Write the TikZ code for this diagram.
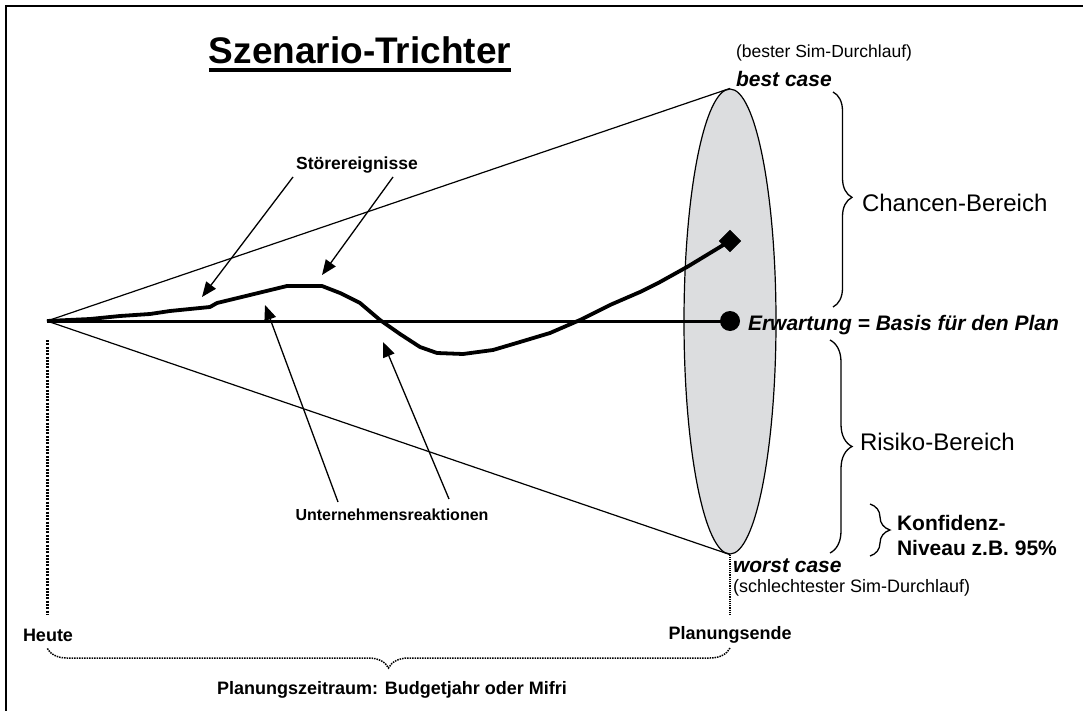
\documentclass[tikz,border=0pt]{standalone}
\usepackage{fontspec}
\setmainfont{Liberation Sans}
\usetikzlibrary{arrows.meta,decorations.pathreplacing,shapes.geometric}
\newcommand{\myfs}[1]{\fontsize{#1}{#1}\selectfont}
\definecolor{funnelgray}{HTML}{DCDDDF}
\begin{document}
\begin{tikzpicture}[x=1pt,y=-1pt,
  lbl/.style={inner sep=0pt, outer sep=0pt},
  arr/.style={-{Triangle[length=15pt,width=12pt]}, line width=1.3pt},
  brc/.style={decorate, line width=1.3pt},
  thin line/.style={line width=1.2pt},
]
\useasboundingbox (0,0) rectangle (1083,711);
% frame
\draw[line width=1.5pt] (6,711) -- (6,6) -- (1083,6);

% title
\node[lbl, anchor=base] (title) at (360,64) {\myfs{37}\bfseries Szenario-Trichter};
\draw[line width=3.5pt] ([yshift=-6pt]title.base west) -- ([yshift=-6pt]title.base east);

% funnel
\coordinate (apex) at (47,321);
\node[ellipse, draw, fill=funnelgray, line width=1.2pt, minimum width=92pt, minimum height=465pt, inner sep=0pt] (funnel) at (730,321.5) {};
\draw[thin line] (apex) -- (funnel.north);
\draw[thin line] (apex) -- (funnel.south);

% expectation line
\node[circle, fill=black, minimum size=20pt, inner sep=0pt] (exp) at (730,321) {};
\draw[line width=3pt] (apex) -- (exp.center);

% scenario path
\node[diamond, fill=black, draw, minimum size=22pt, inner sep=0pt] (best) at (730,241) {};
\draw[line width=3.8pt, line join=round] (apex) -- (90,319) -- (120,316) -- (150,314) -- (170,311)
  -- (190,309) -- (210,307) -- (217,303) -- (250,295) -- (287,286) -- (322,286) -- (340,293)
  -- (360,303) -- (380,320) -- (400,334) -- (420,347) -- (437,353) -- (463,354) -- (493,350)
  -- (520,342) -- (550,333) -- (580,320) -- (610,305) -- (640,292) -- (660,282) -- (687,267)
  -- (720,247) -- (best.center);

% labels right
\node[lbl, anchor=west] (bestsim) at (736,53) {\myfs{17.5}(bester Sim-Durchlauf)};
\node[lbl, anchor=west] (bestcase) at (736,79) {\myfs{21}\bfseries\itshape best case};
\node[lbl, anchor=west] (erw) at (748,325) {\myfs{21}\bfseries\itshape Erwartung = Basis für den Plan};
\node[lbl, anchor=west] (chancen) at (862,203) {\myfs{24}Chancen-Bereich};
\node[lbl, anchor=west] (risiko) at (860,442) {\myfs{24}Risiko-Bereich};
\node[lbl, anchor=west] (konf1) at (897,523) {\myfs{21}\bfseries Konfidenz-};
\node[lbl, anchor=west] (konf2) at (897,548) {\myfs{21}\bfseries Niveau z.B. 95\%};
\node[lbl, anchor=west] (worstcase) at (733,566) {\myfs{21}\bfseries\itshape worst case};
\node[lbl, anchor=west] (worstsim) at (733,588) {\myfs{18}(schlechtester Sim-Durchlauf)};

% braces
\coordinate (cb1) at (833,92);
\coordinate (cb2) at (833,307);
\draw[brc, decoration={brace, amplitude=19pt, aspect=0.49}] (cb1) -- (cb2);
\coordinate (rb1) at (830,340);
\coordinate (rb2) at (830,553);
\draw[brc, decoration={brace, amplitude=22pt, aspect=0.5}] (rb1) -- (rb2);
\coordinate (kb1) at (870,504);
\coordinate (kb2) at (870,556);
\draw[brc, decoration={brace, amplitude=20pt, aspect=0.5}] (kb1) -- (kb2);

% event labels and arrows
\node[lbl] (stoer) at (357,165) {\myfs{17.5}\bfseries Störereignisse};
\coordinate (s1) at (293,177);
\coordinate (t1) at (202,297);
\coordinate (s2) at (393,177);
\coordinate (t2) at (322,275);
\draw[arr] (s1) -- (t1);
\draw[arr] (s2) -- (t2);

\node[lbl] (reakt) at (392,515) {\myfs{16}\bfseries Unternehmensreaktionen};
\coordinate (u1) at (338,502);
\coordinate (v1) at (265,305);
\coordinate (u2) at (449,499);
\coordinate (v2) at (383,342);
\draw[arr] (u1) -- (v1);
\draw[arr] (u2) -- (v2);

% time axis
\draw[line width=3pt, dash pattern=on 2pt off 1.3pt] (47,340) -- (47,615);
\draw[line width=1.2pt, densely dotted] (funnel.south) -- (730,615);
\node[lbl, anchor=west] (heute) at (23,635) {\myfs{18}\bfseries Heute};
\node[lbl] (ende) at (730,635) {\myfs{18}\bfseries Planungsende};
\coordinate (pb1) at (730,648);
\coordinate (pb2) at (47,648);
\draw[decorate, decoration={brace, amplitude=20pt, aspect=0.5}, densely dotted, line width=1.5pt] (pb1) -- (pb2);
\node[lbl] (zeitraum) at (392,690) {\myfs{18}\bfseries Planungszeitraum: Budgetjahr oder Mifri};
\end{tikzpicture}
\end{document}
